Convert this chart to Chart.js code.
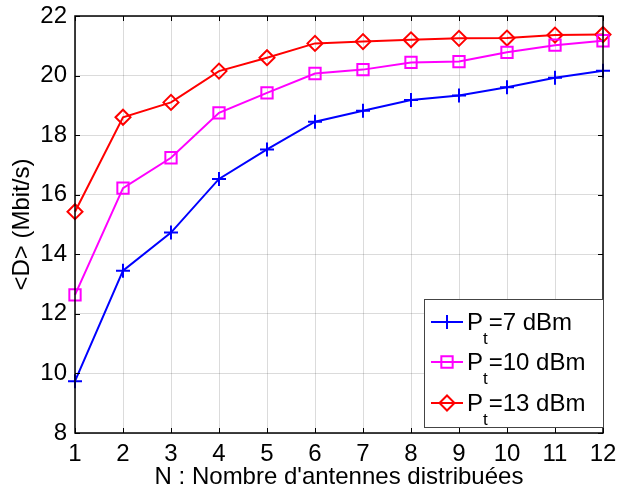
<!DOCTYPE html>
<html>
<head>
<meta charset="utf-8">
<script src="https://cdn.jsdelivr.net/npm/chart.js"></script>
<style>
html, body { margin: 0; padding: 0; background: #fff; }
</style>
</head>
<body>
<canvas id="myChart" width="618" height="489"></canvas>
<script>
// données
var nValues = [1, 2, 3, 4, 5, 6, 7, 8, 9, 10, 11, 12];
var debitPt7 = [9.74, 13.45, 14.73, 16.53, 17.52, 18.45, 18.82, 19.18, 19.33, 19.61, 19.93, 20.16];
var debitPt10 = [12.64, 16.22, 17.24, 18.75, 19.42, 20.07, 20.2, 20.44, 20.47, 20.78, 21.02, 21.17];
var debitPt13 = [15.43, 18.6, 19.1, 20.15, 20.6, 21.08, 21.14, 21.2, 21.25, 21.26, 21.36, 21.38];
var legendLabels = ['=7 dBm', '=10 dBm', '=13 dBm'];
var yMin = 8, yMax = 22, yStep = 2;

var FONT = '"Liberation Sans", Arial, sans-serif';
var FS = 24;
var colors = ['#0000ff', '#ff00ff', '#ff0000'];
var styles = ['cross', 'rect', 'rectRot'];
var radii = [7, 8, 7.5];

//=================== cadre style matlab + légende ===================
var matlabFrame = {
    id: 'matlabFrame',
    afterDraw: function(chart) {
        var ctx = chart.ctx;
        var a = chart.chartArea;
        var xs = chart.scales.x, ys = chart.scales.y;
        ctx.save();
        ctx.strokeStyle = '#000';
        ctx.lineWidth = 1.5;
        ctx.strokeRect(a.left, a.top, a.right - a.left, a.bottom - a.top);
        ctx.lineWidth = 1;
        var tl = 5;
        ctx.beginPath();
        for (var i = 0; i < nValues.length; i++) {
            var px = Math.round(xs.getPixelForValue(i)) + 0.5;
            ctx.moveTo(px, a.bottom); ctx.lineTo(px, a.bottom - tl);
            ctx.moveTo(px, a.top); ctx.lineTo(px, a.top + tl);
        }
        for (var v = yMin; v <= yMax; v += yStep) {
            var py = Math.round(ys.getPixelForValue(v)) + 0.5;
            ctx.moveTo(a.left, py); ctx.lineTo(a.left + tl, py);
            ctx.moveTo(a.right, py); ctx.lineTo(a.right - tl, py);
        }
        ctx.stroke();

        // légende
        var bw = 179, bh = 128;
        var bx = a.right - bw, by = a.bottom - 6 - bh;
        ctx.fillStyle = '#fff';
        ctx.fillRect(bx, by, bw, bh);
        ctx.strokeStyle = '#444';
        ctx.lineWidth = 1;
        ctx.strokeRect(bx + 0.5, by + 0.5, bw, bh);
        var rows = [by + 23, by + 63, by + 104];
        for (var k = 0; k < 3; k++) {
            var ry = rows[k];
            ctx.strokeStyle = colors[k];
            ctx.lineWidth = 2;
            ctx.beginPath();
            ctx.moveTo(bx + 7, ry); ctx.lineTo(bx + 39, ry);
            ctx.stroke();
            ctx.fillStyle = 'rgba(0,0,0,0)';
            Chart.helpers.drawPoint(ctx, {pointStyle: styles[k], radius: radii[k], borderWidth: 2}, bx + 23, ry);
            ctx.fillStyle = '#000';
            ctx.textBaseline = 'alphabetic';
            ctx.font = FS + 'px ' + FONT;
            ctx.fillText('P', bx + 43, ry + 8);
            var pw = ctx.measureText('P').width;
            ctx.font = '17px ' + FONT;
            ctx.fillText('t', bx + 43 + pw, ry + 22);
            var tw = ctx.measureText('t').width;
            ctx.font = FS + 'px ' + FONT;
            ctx.fillText(legendLabels[k], bx + 43 + pw + tw + 1, ry + 8);
        }
        ctx.restore();
    }
};

function makeSet(data, k) {
    return {
        data: data,
        borderColor: colors[k],
        backgroundColor: 'rgba(0,0,0,0)',
        borderWidth: 2,
        pointStyle: styles[k],
        pointRadius: radii[k],
        pointBorderWidth: 2,
        pointBorderColor: colors[k],
        pointBackgroundColor: 'rgba(0,0,0,0)',
        fill: false,
        tension: 0
    };
}

function noPad(s) {
    s.paddingTop = 0; s.paddingBottom = 0; s.paddingLeft = 0; s.paddingRight = 0;
}

new Chart(document.getElementById('myChart'), {
    type: 'line',
    data: {
        labels: nValues,
        datasets: [makeSet(debitPt7, 0), makeSet(debitPt10, 1), makeSet(debitPt13, 2)]
    },
    options: {
        responsive: false,
        animation: false,
        devicePixelRatio: 1,
        layout: { padding: { top: 16, right: 15, left: 0, bottom: 0 } },
        plugins: { legend: { display: false }, tooltip: { enabled: false } },
        elements: { point: { hitRadius: 0 } },
        scales: {
            x: {
                offset: false,
                grid: { color: 'rgba(0,0,0,0.14)', drawTicks: false },
                border: { display: false },
                ticks: { color: '#000', font: { family: FONT, size: FS }, padding: 7, maxRotation: 0, autoSkip: false },
                title: { display: true, text: "N : Nombre d'antennes distribuées", color: '#000', font: { family: FONT, size: FS }, padding: { top: 0, bottom: -3 } },
                afterFit: function(s) { s.height = 56; noPad(s); }
            },
            y: {
                min: yMin, max: yMax,
                grid: { color: 'rgba(0,0,0,0.14)', drawTicks: false },
                border: { display: false },
                ticks: { stepSize: yStep, color: '#000', font: { family: FONT, size: FS }, padding: 8 },
                title: { display: true, text: '<D> (Mbit/s)', color: '#000', font: { family: FONT, size: FS }, padding: { top: 8, bottom: 4 } },
                afterFit: function(s) { s.width = 75; noPad(s); }
            }
        }
    },
    plugins: [matlabFrame]
});
</script>
</body>
</html>
